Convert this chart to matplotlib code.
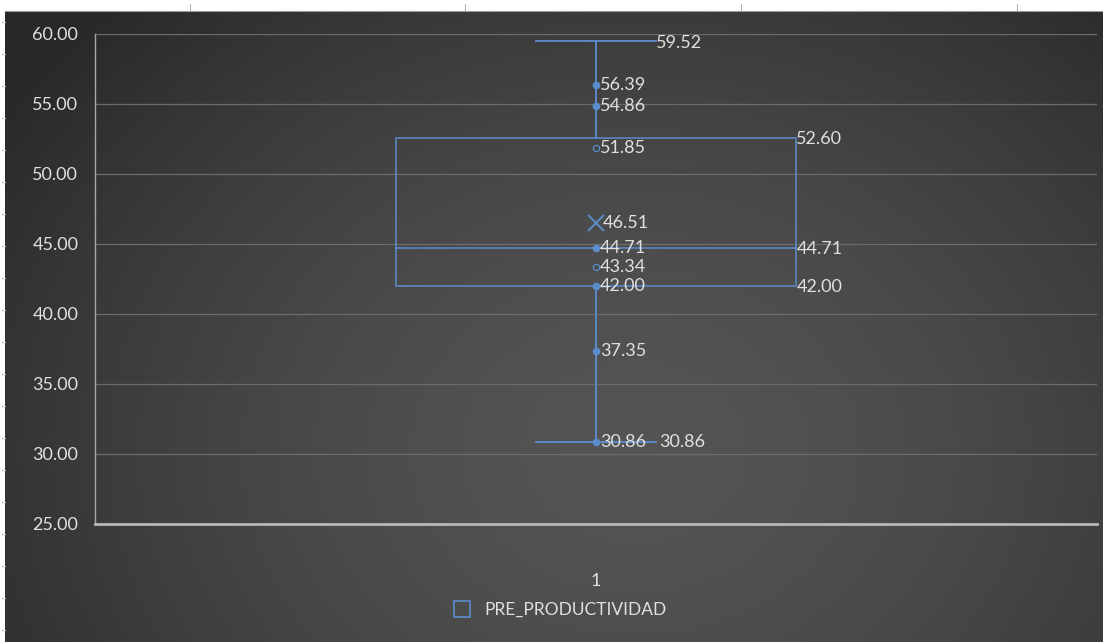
import matplotlib
matplotlib.use("Agg")
import matplotlib.pyplot as plt
import numpy as np
from matplotlib.lines import Line2D
from matplotlib.patches import Rectangle

# box plot summary for PRE_PRODUCTIVIDAD
series_name = "PRE_PRODUCTIVIDAD"
category = [1]
whisker_min = 30.86
q1 = 42.00
median = 44.71
q3 = 52.60
whisker_max = 59.52
mean = 46.51
points_filled = [56.39, 54.86, 44.71, 42.00, 37.35, 30.86]
points_hollow = [51.85, 43.34]
y_ticks = [25, 30, 35, 40, 45, 50, 55, 60]

blue = "#5b8dcc"
txt = "#e0e0e0"
plt.rcParams["font.family"] = ["Lato", "DejaVu Sans"]

fig = plt.figure(figsize=(11.03, 6.42), dpi=100)
fig.patch.set_facecolor("white")

# dark radial gradient behind everything
bg = fig.add_axes([5 / 1103, 0, 1 - 5 / 1103, 1 - 11 / 642], zorder=-5)
h, w = 631, 1098
yy, xx = np.mgrid[0:h, 0:w]
d = np.sqrt(((xx - 630) / 760.0) ** 2 + ((yy - 440) / 620.0) ** 2)
shade = 0.33 - 0.17 * np.clip(d, 0, 1) ** 1.6
bg.imshow(np.dstack([shade] * 3), aspect="auto", interpolation="bilinear")
bg.axis("off")

# screen ruler marks on the white edges
for x in [190, 465, 741, 1017]:
    fig.add_artist(Line2D([x / 1103] * 2, [1 - 4 / 642, 1 - 11 / 642], color="#b0b0b0", lw=0.8))
for y in range(22, 642, 32):
    fig.add_artist(Line2D([2 / 1103, 5 / 1103], [1 - y / 642] * 2, color="#c0c0c0", lw=0.8))
fig.add_artist(Line2D([5 / 1103, 1], [1 - 11 / 642] * 2, color="#9a9a9a", lw=0.8))

ax = fig.add_axes([95 / 1103, 1 - 524 / 642, 1002 / 1103, 490 / 642])
ax.set_facecolor("none")
ax.set_xlim(0.5, 1.5)
ax.set_ylim(25, 60)
ax.set_yticks(y_ticks)
ax.set_yticklabels([f"{v:.2f}" for v in y_ticks])
ax.set_xticks(category)
ax.set_xticklabels([str(c) for c in category])
ax.tick_params(axis="y", length=0, pad=12, labelsize=13, labelcolor=txt)
ax.tick_params(axis="x", length=0, pad=35, labelsize=13, labelcolor=txt)
ax.grid(axis="y", color="#6c6c6c", lw=0.9)
ax.set_axisbelow(True)
for s in ["top", "right"]:
    ax.spines[s].set_visible(False)
ax.spines["left"].set_color("#a8a8a8")
ax.spines["left"].set_linewidth(1.0)
ax.spines["bottom"].set_color("#b8b8b8")
ax.spines["bottom"].set_linewidth(2.0)

cx = category[0]
bw = 0.2
cap = 0.06

# box, median, whiskers and caps
ax.add_patch(Rectangle((cx - bw, q1), 2 * bw, q3 - q1, fill=False, ec=blue, lw=1.1, zorder=3))
ax.plot([cx - bw, cx + bw], [median, median], color=blue, lw=1.1, zorder=3)
ax.plot([cx, cx], [whisker_min, q1], color=blue, lw=1.3, zorder=3)
ax.plot([cx, cx], [q3, whisker_max], color=blue, lw=1.3, zorder=3)
ax.plot([cx - cap, cx + cap], [whisker_max, whisker_max], color=blue, lw=1.3, zorder=3)
ax.plot([cx - cap, cx + cap], [whisker_min, whisker_min], color=blue, lw=1.3, zorder=3)

ax.plot([cx] * len(points_filled), points_filled, "o", ms=4.5, color=blue, zorder=4)
ax.plot([cx] * len(points_hollow), points_hollow, "o", ms=4.5, mfc="none", mec=blue, mew=0.9, zorder=4)
ax.plot([cx], [mean], "x", ms=11, mew=1.4, color=blue, zorder=4)

lab = dict(color=txt, fontsize=13, va="center", ha="left", zorder=5)
for v in points_filled + points_hollow:
    ax.annotate(f"{v:.2f}", (cx, v), xytext=(3, 0), textcoords="offset points", **lab)
ax.annotate(f"{mean:.2f}", (cx, mean), xytext=(5, 0), textcoords="offset points", **lab)
ax.annotate(f"{whisker_max:.2f}", (cx + cap, whisker_max), xytext=(0, -2), textcoords="offset points", **lab)
ax.annotate(f"{whisker_min:.2f}", (cx + cap, whisker_min), xytext=(2, 0), textcoords="offset points", **lab)
for v in [q3, median, q1]:
    ax.annotate(f"{v:.2f}", (cx + bw, v), xytext=(0, -1), textcoords="offset points", **lab)

handle = Line2D([], [], marker="s", ls="none", ms=11, mfc="none", mec=blue, mew=1.2)
leg = fig.legend([handle], [series_name], loc="center", bbox_to_anchor=(0.504, 1 - 610 / 642),
                 frameon=False, fontsize=12.5, handletextpad=0.3)
for t in leg.get_texts():
    t.set_color(txt)

fig.savefig("out.png", dpi=100)
